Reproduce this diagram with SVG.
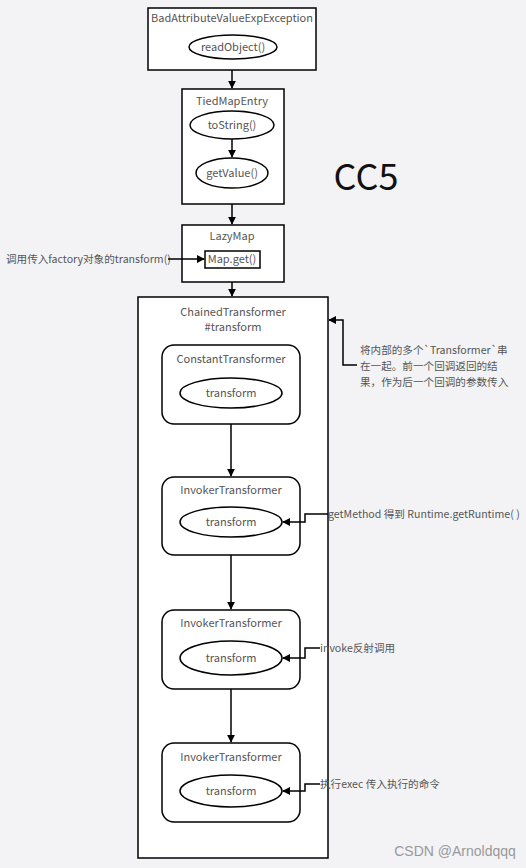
<svg xmlns="http://www.w3.org/2000/svg" width="526" height="868" viewBox="0 0 526 868">
<defs>
<marker id="ah" viewBox="0 0 10 10" refX="9" refY="5" markerWidth="8" markerHeight="8" markerUnits="userSpaceOnUse" orient="auto"><path d="M0,0 L10,5 L0,10 z" fill="#000"/></marker>
<style>
.box{fill:#fff;stroke:#000;stroke-width:1.5}
.el{fill:#fff;stroke:#000;stroke-width:1.5}
.t{font-family:"Noto Sans CJK SC","Noto Sans",sans-serif;font-size:11px;fill:#555;text-anchor:middle}
.a{font-family:"Noto Sans CJK SC","Noto Sans",sans-serif;font-size:10.6px;fill:#555}
.c{fill:none;stroke:#000;stroke-width:1.5;marker-end:url(#ah)}
</style>
</defs>
<rect width="526" height="868" fill="#f3f3f5"/>
<g id="bave">
<rect class="box" x="148" y="8" width="168" height="62"/>
<text class="t" x="232" y="22">BadAttributeValueExpException</text>
<ellipse class="el" cx="233" cy="47" rx="44" ry="12"/>
<text class="t" x="233" y="51">readObject()</text>
</g>
<g id="tied">
<rect class="box" x="182" y="89" width="102" height="115"/>
<text class="t" x="232" y="105">TiedMapEntry</text>
<ellipse class="el" cx="232" cy="125" rx="42" ry="14"/>
<text class="t" x="232" y="129">toString()</text>
<ellipse class="el" cx="232" cy="173" rx="36" ry="15"/>
<text class="t" x="232" y="177">getValue()</text>
</g>
<g id="lazy">
<rect class="box" x="182" y="225" width="102" height="57"/>
<text class="t" x="232" y="240">LazyMap</text>
<rect class="box" x="205" y="251" width="55" height="17"/>
<text class="t" x="232" y="263">Map.get()</text>
</g>
<g id="chained">
<rect class="box" x="138" y="297" width="190" height="561"/>
<text class="t" x="233" y="316">ChainedTransformer</text>
<text class="t" x="233" y="331">#transform</text>
</g>
<g id="constant">
<rect class="box" x="162" y="345" width="138" height="79" rx="12"/>
<text class="t" x="231" y="363">ConstantTransformer</text>
<ellipse class="el" cx="231" cy="393" rx="51" ry="15"/>
<text class="t" x="231" y="397">transform</text>
</g>
<g id="invoker1">
<rect class="box" x="162" y="477" width="138" height="78" rx="12"/>
<text class="t" x="231" y="494">InvokerTransformer</text>
<ellipse class="el" cx="231" cy="522" rx="51" ry="15"/>
<text class="t" x="231" y="526">transform</text>
</g>
<g id="invoker2">
<rect class="box" x="162" y="610" width="138" height="79" rx="12"/>
<text class="t" x="231" y="627">InvokerTransformer</text>
<ellipse class="el" cx="231" cy="658" rx="51" ry="17"/>
<text class="t" x="231" y="662">transform</text>
</g>
<g id="invoker3">
<rect class="box" x="162" y="743" width="138" height="79" rx="12"/>
<text class="t" x="231" y="761">InvokerTransformer</text>
<ellipse class="el" cx="231" cy="791" rx="51" ry="16"/>
<text class="t" x="231" y="795">transform</text>
</g>
<g id="labels">
<text x="366" y="190" style="font-family:'Noto Sans CJK SC','Noto Sans',sans-serif;font-size:36px;fill:#111;text-anchor:middle">CC5</text>
<text class="a" x="6" y="263">调用传入factory对象的transform()</text>
<text class="a" x="360" y="354">将内部的多个`Transformer`串</text>
<text class="a" x="360" y="370">在一起。前一个回调返回的结</text>
<text class="a" x="360" y="386">果，作为后一个回调的参数传入</text>
<text class="a" x="328" y="518">getMethod 得到 Runtime.getRuntime( )</text>
<text class="a" x="320" y="652">invoke反射调用</text>
<text class="a" x="320" y="788">执行exec 传入执行的命令</text>
<text x="455" y="856" style="font-family:'Liberation Sans',sans-serif;font-size:14px;fill:#999;text-anchor:middle">CSDN @Arnoldqqq</text>
</g>
<g id="connectors">
<path class="c" d="M232,70 V88"/>
<path class="c" d="M232,139 V157"/>
<path class="c" d="M232,204 V224"/>
<path class="c" d="M168,259 H204"/>
<path class="c" d="M232,282 V296"/>
<path class="c" d="M357,365 H343 V320 H329"/>
<path class="c" d="M231,424 V476"/>
<path class="c" d="M231,555 V609"/>
<path class="c" d="M231,689 V742"/>
<path class="c" d="M328,514 H305 V522 H283"/>
<path class="c" d="M320,648 H305 V658 H283"/>
<path class="c" d="M320,784 H305 V791 H283"/>
</g>
</svg>
